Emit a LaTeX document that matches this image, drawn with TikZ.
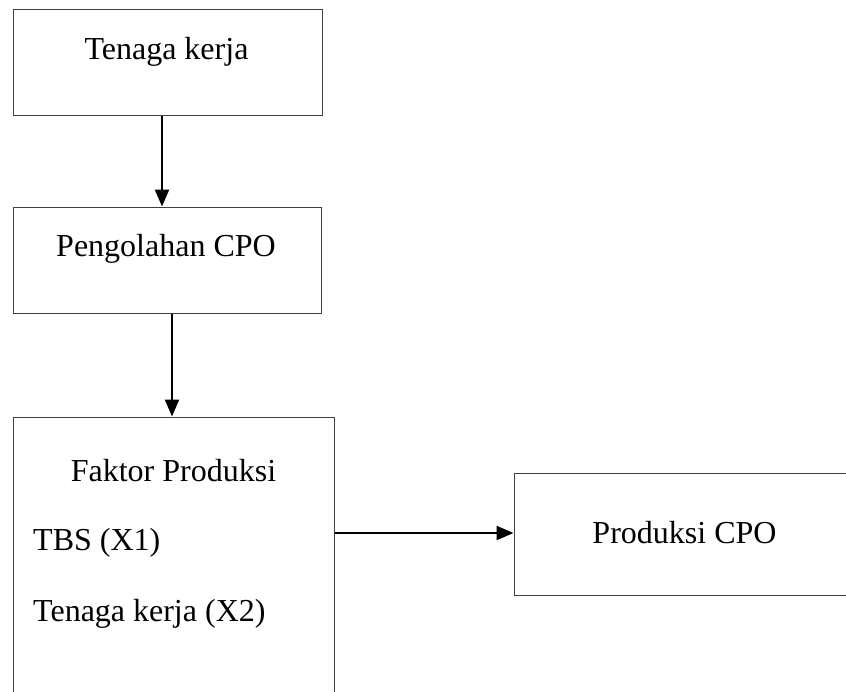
\documentclass[tikz,border=0pt]{standalone}
\usepackage{fontspec}
\setmainfont{Liberation Serif}
\usetikzlibrary{arrows.meta}
\begin{document}
\begin{tikzpicture}[x=1pt, y=-1pt,
      box/.style={draw=black!75, line width=1pt, rectangle, inner sep=0pt},
      txt/.style={inner sep=0pt, font=\fontsize{32}{38}\selectfont},
      arr/.style={line width=2.4pt, -{Triangle[length=17pt, width=14pt]}}]
   \useasboundingbox (0,0) rectangle (846,691);
   \clip (0,0) rectangle (846,691);
   \def \Boxes {
      tk/167.5/62/309/106,
      po/167/260/308/106,
      fp/173.5/573.5/321/313,
      pc/697/534/366/122}
   \def \Labels {
      ttk/166.5/59/base/Tenaga kerja,
      tpo/166/256/base/Pengolahan CPO,
      tfp/173.5/481.5/base/Faktor Produksi,
      ttbs/33/550.5/base west/TBS (X1),
      ttk2/33/621/base west/Tenaga kerja (X2),
      tpc/684.5/543/base/Produksi CPO}
   \foreach \u / \x / \y / \w / \h in \Boxes {
      \node[box, minimum width=\w pt, minimum height=\h pt] (\u) at (\x, \y){};
   }
   \foreach \u / \x / \y / \a / \n in \Labels {
      \node[txt, anchor=\a] (\u) at (\x, \y){\n};
   }
   \coordinate (a1) at (162, 0);
   \coordinate (a2) at (172, 0);
   \coordinate (a3) at (0, 533);
   \path[draw, arr] (a1 |- tk.south) -- (a1 |- po.north);
   \path[draw, arr] (a2 |- po.south) -- (a2 |- fp.north);
   \path[draw, arr] (fp.east |- a3) -- (pc.west |- a3);
\end{tikzpicture}
\end{document}
